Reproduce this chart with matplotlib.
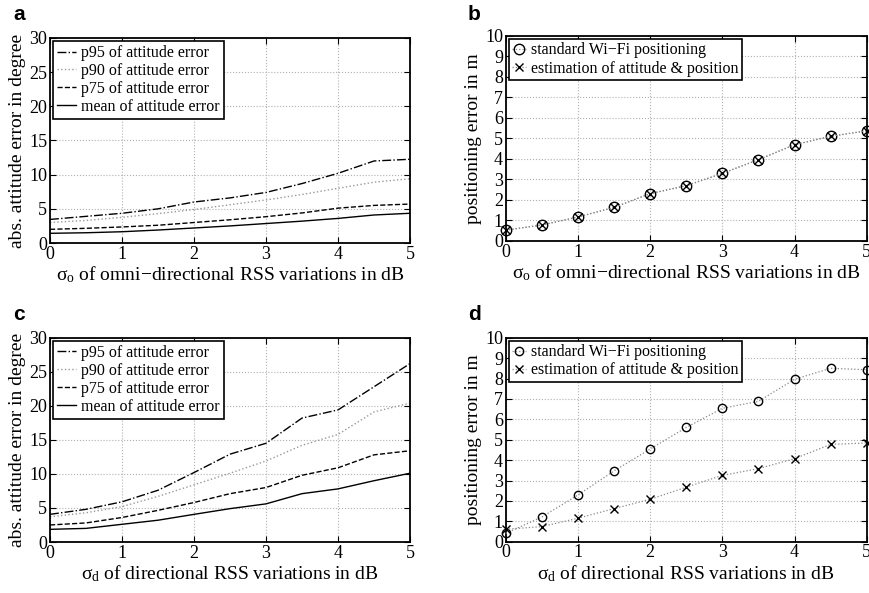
import matplotlib
matplotlib.use("Agg")
import matplotlib.pyplot as plt

plt.rcParams['font.family'] = ['Liberation Serif', 'DejaVu Serif']
plt.rcParams['mathtext.fontset'] = 'custom'
plt.rcParams['mathtext.rm'] = 'Liberation Serif'
plt.rcParams['mathtext.it'] = 'Liberation Serif:italic'

# RSS variation levels (dB)
sigma_a = [0, 0.5, 1, 1.5, 2, 2.5, 3, 3.5, 4, 4.5, 5]
sigma_pts = [0, 0.5, 1, 1.5, 2, 2.5, 3, 3.5, 4, 4.5, 5]

# (a) attitude error vs omni-directional RSS variations
a_p95 = [3.45, 3.9, 4.35, 5.0, 6.0, 6.6, 7.4, 8.7, 10.2, 12.0, 12.25]
a_p90 = [3.0, 3.3, 3.76, 4.3, 4.9, 5.6, 6.3, 7.1, 8.0, 8.9, 9.4]
a_p75 = [2.0, 2.15, 2.35, 2.6, 3.0, 3.4, 3.85, 4.4, 5.1, 5.5, 5.7]
a_mean = [1.42, 1.5, 1.65, 1.9, 2.2, 2.5, 2.85, 3.2, 3.6, 4.1, 4.35]

# (b) positioning error vs omni-directional RSS variations
b_std = [0.52, 0.77, 1.16, 1.63, 2.3, 2.69, 3.29, 3.96, 4.69, 5.1, 5.37]
b_est = [0.52, 0.77, 1.16, 1.63, 2.3, 2.69, 3.29, 3.96, 4.69, 5.1, 5.37]

# (c) attitude error vs directional RSS variations
c_p95 = [4.06, 4.8, 5.9, 7.6, 10.2, 12.9, 14.5, 18.2, 19.4, 22.8, 26.2]
c_p90 = [3.7, 4.3, 5.2, 6.7, 8.4, 10.1, 11.9, 14.2, 15.8, 19.1, 20.4]
c_p75 = [2.5, 2.8, 3.6, 4.65, 5.8, 7.1, 8.0, 9.8, 10.9, 12.8, 13.4]
c_mean = [1.86, 2.0, 2.6, 3.2, 4.06, 4.9, 5.6, 7.1, 7.8, 9.0, 10.1]

# (d) positioning error vs directional RSS variations
d_std = [0.41, 1.21, 2.29, 3.47, 4.54, 5.6, 6.54, 6.88, 7.96, 8.5, 8.43]
d_est = [0.61, 0.74, 1.15, 1.62, 2.08, 2.67, 3.25, 3.58, 4.07, 4.77, 4.84]

att_labels = ["p95 of attitude error", "p90 of attitude error",
              "p75 of attitude error", "mean of attitude error"]
pos_labels = ["standard Wi\u2212Fi positioning",
              "estimation of attitude & position"]
xlabel_o = "\u03c3$_{\\mathrm{o}}$ of omni\u2212directional RSS variations in dB"
xlabel_d = "\u03c3$_{\\mathrm{d}}$ of directional RSS variations in dB"
ylabel_att = "abs. attitude error in degree"
ylabel_pos = "positioning error in m"

fig = plt.figure(figsize=(8.7, 5.93), dpi=100)

pos = {
    'a': [0.0575, 0.5902, 0.4138, 0.3458],
    'b': [0.5813, 0.5940, 0.4149, 0.3453],
    'c': [0.0575, 0.0860, 0.4138, 0.3445],
    'd': [0.5813, 0.0865, 0.4149, 0.3440],
}


def style_axes(ax, ymax, ystep, xlabel, ylabel):
    ax.set_xlim(0, 5)
    ax.set_ylim(0, ymax)
    ax.set_xticks(range(0, 6))
    ax.set_yticks(range(0, ymax + 1, ystep))
    ax.grid(True, linestyle=':', color='#b0b0b0', linewidth=0.8)
    ax.tick_params(direction='in', top=True, right=True, labelsize=13,
                   length=4, width=0.8, pad=2)
    for s in ax.spines.values():
        s.set_linewidth(1.3)
    ax.set_xlabel(xlabel, fontsize=14, labelpad=1)
    ax.set_ylabel(ylabel, fontsize=14, labelpad=2)


def attitude_panel(ax, p95, p90, p75, mean, xlabel):
    ax.plot(sigma_a, p95, linestyle='-.', color='black', lw=1.0, label=att_labels[0])
    ax.plot(sigma_a, p90, linestyle=':', color='#999999', lw=1.0, label=att_labels[1])
    ax.plot(sigma_a, p75, linestyle='--', color='black', lw=1.0, label=att_labels[2])
    ax.plot(sigma_a, mean, linestyle='-', color='black', lw=1.0, label=att_labels[3])
    style_axes(ax, 30, 5, xlabel, ylabel_att)
    leg = ax.legend(loc='upper left', fontsize=11.5, frameon=True, fancybox=False,
                    edgecolor='black', framealpha=1, handlelength=1.2,
                    handletextpad=0.3, borderpad=0.25, labelspacing=0.12,
                    borderaxespad=0.2)
    leg.get_frame().set_linewidth(1.2)


def position_panel(ax, std, est, xlabel, ms_o, ms_x):
    ax.plot(sigma_pts, std, linestyle=':', color='#888888', lw=0.9,
            marker='o', mfc='none', mec='black', ms=ms_o, mew=1.0,
            clip_on=False, zorder=3, label=pos_labels[0])
    ax.plot(sigma_pts, est, linestyle=':', color='#888888', lw=0.9,
            marker='x', mec='black', ms=ms_x, mew=1.0,
            clip_on=False, zorder=3, label=pos_labels[1])
    style_axes(ax, 10, 1, xlabel, ylabel_pos)
    leg = ax.legend(loc='upper left', fontsize=11.5, frameon=True, fancybox=False,
                    edgecolor='black', framealpha=1, handlelength=0.9,
                    handletextpad=0.3, borderpad=0.2, labelspacing=0.15,
                    borderaxespad=0.2)
    leg.get_frame().set_linewidth(1.2)


ax_a = fig.add_axes(pos['a'])
attitude_panel(ax_a, a_p95, a_p90, a_p75, a_mean, xlabel_o)
ax_b = fig.add_axes(pos['b'])
position_panel(ax_b, b_std, b_est, xlabel_o, 7.5, 6)
ax_c = fig.add_axes(pos['c'])
attitude_panel(ax_c, c_p95, c_p90, c_p75, c_mean, xlabel_d)
ax_d = fig.add_axes(pos['d'])
position_panel(ax_d, d_std, d_est, xlabel_d, 6, 6)

panel_font = dict(fontsize=15, fontweight='bold', family=['Liberation Sans', 'DejaVu Sans'],
                  va='top', ha='left')
fig.text(13 / 870, 1 - 5 / 593, 'a', **panel_font)
fig.text(468 / 870, 1 - 5 / 593, 'b', **panel_font)
fig.text(13 / 870, 1 - 305 / 593, 'c', **panel_font)
fig.text(468 / 870, 1 - 305 / 593, 'd', **panel_font)

fig.savefig('out.png', dpi=100)
